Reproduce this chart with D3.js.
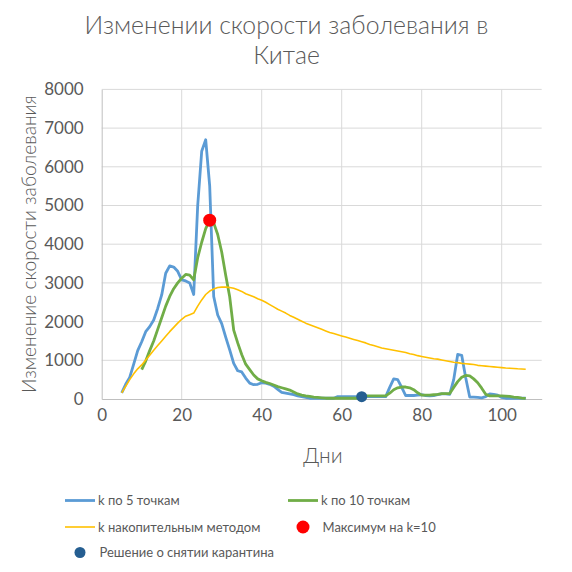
<!DOCTYPE html>
<html>
<head>
<meta charset="utf-8">
<script src="https://cdn.jsdelivr.net/npm/d3@7"></script>
<style>
  body { margin: 0; background: #fff; }
  svg text { font-family: Lato, "Open Sans", "Noto Sans", sans-serif; fill: #595959; }
</style>
</head>
<body>
<svg width="572" height="572"></svg>
<script>
// дни с 5 по 106
const days = d3.range(5, 107);

// k по 5 точкам
const k5 = [160, 380, 560, 900, 1250, 1480, 1740, 1870, 2040, 2340,
  2690, 3250, 3440, 3410, 3300, 3080, 3050, 3000, 2700, 5000,
  6400, 6700, 5500, 2650, 2170, 1950, 1600, 1270, 920, 730,
  700, 540, 410, 370, 380, 420, 410, 380, 330, 250,
  170, 150, 130, 110, 80, 60, 40, 20, 20, 20,
  20, 20, 20, 20, 60, 60, 60, 60, 60, 60,
  60, 60, 60, 60, 60, 60, 60, 300, 520, 500,
  300, 90, 90, 90, 100, 110, 90, 80, 90, 110,
  130, 130, 120, 500, 1150, 1130, 550, 50, 50, 40,
  30, 60, 130, 120, 100, 40, 20, 20, 20, 20,
  20, 20];

// k по 10 точкам (начинается с 10-го дня)
const k10Days = d3.range(10, 107);
const k10 = [760, 980, 1250, 1500, 1800, 2100, 2400, 2650, 2850, 3000,
  3120, 3220, 3200, 3080, 3650, 4050, 4400, 4620, 4550, 4250,
  3800, 3200, 2640, 1780, 1450, 1150, 900, 760, 620, 520,
  470, 430, 400, 360, 320, 290, 260, 230, 180, 130,
  100, 80, 70, 50, 40, 30, 20, 20, 20, 20,
  20, 20, 20, 20, 20, 70, 80, 80, 80, 80,
  80, 80, 150, 240, 290, 310, 310, 290, 240, 160,
  100, 100, 100, 110, 120, 140, 140, 140, 300, 450,
  560, 610, 600, 520, 420, 280, 120, 80, 80, 80,
  80, 75, 70, 50, 40, 25, 15];

// k накопительным методом
const kCum = [160, 330, 500, 650, 780, 880, 1010, 1130, 1260, 1380,
  1500, 1620, 1740, 1850, 1960, 2060, 2140, 2180, 2220, 2400,
  2560, 2700, 2790, 2840, 2880, 2890, 2890, 2880, 2860, 2820,
  2780, 2720, 2680, 2640, 2590, 2550, 2500, 2440, 2380, 2320,
  2270, 2220, 2160, 2110, 2060, 2010, 1960, 1920, 1880, 1840,
  1800, 1760, 1720, 1690, 1660, 1630, 1600, 1570, 1540, 1510,
  1480, 1450, 1410, 1380, 1350, 1320, 1300, 1280, 1260, 1240,
  1220, 1200, 1170, 1150, 1120, 1100, 1080, 1060, 1040, 1030,
  1010, 990, 970, 950, 940, 920, 910, 900, 890, 870,
  860, 850, 840, 830, 820, 810, 800, 795, 790, 780,
  775, 770];

const maxPoint = [{day: 27, value: 4620}];
const quarantinePoint = [{day: 65, value: 60}];

const xTicks = [0, 20, 40, 60, 80, 100];
const yTicks = [0, 1000, 2000, 3000, 4000, 5000, 6000, 7000, 8000];

const svg = d3.select('svg');

const plotLeft = 101.7, plotRight = 541.7, plotTop = 89.4, plotBottom = 399;

const x = d3.scaleLinear().domain([0, 110]).range([plotLeft, plotRight]);
const y = d3.scaleLinear().domain([0, 8000]).range([plotBottom, plotTop]);

// подгонка размера шрифта под ширину текста
function fitWidth(sel, target) {
  const size = +sel.attr('font-size');
  const w = sel.node().getComputedTextLength();
  if (w > 0) sel.attr('font-size', size * target / w);
}

// сетка
svg.append('g')
  .selectAll('line')
  .data(yTicks.filter(d => d > 0))
  .join('line')
  .attr('x1', plotLeft).attr('x2', plotRight)
  .attr('y1', d => y(d)).attr('y2', d => y(d))
  .attr('stroke', '#d9d9d9').attr('stroke-width', 1);

svg.append('g')
  .selectAll('line')
  .data(d3.range(20, 111, 20))
  .join('line')
  .attr('x1', d => x(d)).attr('x2', d => x(d))
  .attr('y1', plotTop).attr('y2', plotBottom)
  .attr('stroke', '#d9d9d9').attr('stroke-width', 1);

// оси
const xAxis = svg.append('g')
  .attr('transform', `translate(0,${plotBottom})`)
  .call(d3.axisBottom(x).tickValues(xTicks).tickSize(0).tickPadding(10));
xAxis.select('.domain').attr('stroke', '#bfbfbf');
xAxis.selectAll('text').attr('font-size', 17).style('fill', '#595959')
  .style('font-family', 'Lato, "Open Sans", sans-serif');

const yAxis = svg.append('g')
  .attr('transform', `translate(${plotLeft},0)`)
  .call(d3.axisLeft(y).tickValues(yTicks).tickSize(0).tickPadding(18).tickFormat(d3.format('d')));
yAxis.select('.domain').attr('stroke', '#bfbfbf');
yAxis.selectAll('text').attr('font-size', 17).style('fill', '#595959')
  .style('font-family', 'Lato, "Open Sans", sans-serif');

// линии
const line = d3.line()
  .x(d => x(d.day))
  .y(d => y(d.value));

const s5 = days.map((d, i) => ({day: d, value: k5[i]}));
const s10 = k10Days.map((d, i) => ({day: d, value: k10[i]}));
const sCum = days.map((d, i) => ({day: d, value: kCum[i]}));

svg.append('path').attr('d', line(s5))
  .attr('fill', 'none').attr('stroke', '#5b9bd5').attr('stroke-width', 2.8)
  .attr('stroke-linejoin', 'round');
svg.append('path').attr('d', line(s10))
  .attr('fill', 'none').attr('stroke', '#70ad47').attr('stroke-width', 2.8)
  .attr('stroke-linejoin', 'round');
svg.append('path').attr('d', line(sCum))
  .attr('fill', 'none').attr('stroke', '#ffc000').attr('stroke-width', 1.6)
  .attr('stroke-linejoin', 'round');

svg.append('g').selectAll('circle')
  .data(maxPoint)
  .join('circle')
  .attr('cx', d => x(d.day)).attr('cy', d => y(d.value))
  .attr('r', 6.5).attr('fill', '#ff0000');

svg.append('g').selectAll('circle')
  .data(quarantinePoint)
  .join('circle')
  .attr('cx', d => x(d.day)).attr('cy', d => y(d.value))
  .attr('r', 5.5).attr('fill', '#255e91');

// заголовки
const title1 = svg.append('text').attr('x', 286.5).attr('y', 34)
  .attr('text-anchor', 'middle').attr('font-size', 23).attr('font-weight', 300)
  .text('Изменении скорости заболевания в');
fitWidth(title1, 404);
svg.append('text').attr('x', 286.5).attr('y', 64)
  .attr('text-anchor', 'middle').attr('font-size', title1.attr('font-size')).attr('font-weight', 300)
  .text('Китае');

svg.append('text').attr('x', 323).attr('y', 463)
  .attr('text-anchor', 'middle').attr('font-size', 21).attr('font-weight', 300)
  .text('Дни');

const yTitle = svg.append('text')
  .attr('transform', `translate(36,${(plotTop + plotBottom) / 2}) rotate(-90)`)
  .attr('text-anchor', 'middle').attr('font-size', 19.5).attr('font-weight', 300)
  .text('Изменение скорости заболевания');
fitWidth(yTitle, 298);

// легенда
const legendLines = [
  {x: 65, y: 500.5, color: '#5b9bd5', w: 2.8, label: 'k по 5 точкам'},
  {x: 288, y: 500.5, color: '#70ad47', w: 2.8, label: 'k по 10 точкам'},
  {x: 65, y: 527, color: '#ffc000', w: 1.6, label: 'k накопительным методом'}
];
const legendDots = [
  {x: 303, y: 527, color: '#ff0000', r: 6.5, label: 'Максимум на k=10'},
  {x: 80, y: 552.5, color: '#255e91', r: 5.5, label: 'Решение о снятии карантина'}
];

const lg = svg.append('g');
legendLines.forEach(d => {
  lg.append('line').attr('x1', d.x).attr('x2', d.x + 30)
    .attr('y1', d.y).attr('y2', d.y)
    .attr('stroke', d.color).attr('stroke-width', d.w);
  lg.append('text').attr('x', d.x + 33).attr('y', d.y + 4.5)
    .attr('font-size', 13).text(d.label);
});
legendDots.forEach(d => {
  lg.append('circle').attr('cx', d.x).attr('cy', d.y).attr('r', d.r).attr('fill', d.color);
  lg.append('text').attr('x', d.x + 19.5).attr('y', d.y + 4.5)
    .attr('font-size', 13).text(d.label);
});
</script>
</body>
</html>
